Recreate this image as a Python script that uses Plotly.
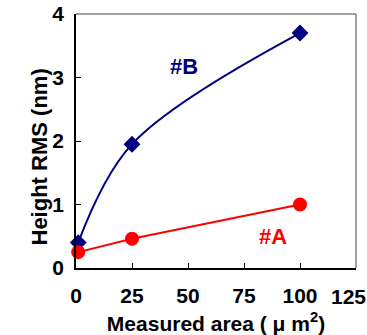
import plotly.graph_objects as go

area = [1, 25, 100]
rms_b = [0.40, 1.95, 3.70]
rms_a = [0.25, 0.46, 1.00]
x_ticks = [0, 25, 50, 75, 100, 125]
y_ticks = [0, 1, 2, 3, 4]

FONT = "Liberation Sans"
L, R, T, B = 76, 11, 14, 67
W, H = 367, 335
PW, PH = W - L - R, H - T - B

fig = go.Figure()
fig.add_trace(go.Scatter(x=area, y=rms_b, mode="lines+markers",
                         line=dict(color="#000080", width=2, shape="spline", smoothing=1.0),
                         marker=dict(symbol="diamond", size=13, color="#000080"),
                         showlegend=False, cliponaxis=False))
fig.add_trace(go.Scatter(x=area, y=rms_a, mode="lines+markers",
                         line=dict(color="#FF0000", width=2),
                         marker=dict(symbol="circle", size=14, color="#FF0000"),
                         showlegend=False, cliponaxis=False))

fig.add_annotation(x=48, y=3.17, text="<b>#B</b>", showarrow=False,
                   font=dict(family=FONT, size=22, color="#000080"))
fig.add_annotation(x=88, y=0.49, text="<b>#A</b>", showarrow=False,
                   font=dict(family=FONT, size=22, color="#FF0000"))

tickfont = dict(family=FONT, size=21, color="black")
axis_common = dict(showgrid=False, zeroline=False, ticks="inside", ticklen=5,
                   tickcolor="black", linecolor="black", linewidth=1.5,
                   mirror=False, tickfont=tickfont, automargin=False)
# last x tick label is placed separately (shifted left to fit, as in the original)
x_text = [f"<b>{v}</b>" for v in x_ticks[:-1]] + [""]
fig.update_xaxes(range=[0, 125], tickvals=x_ticks, ticktext=x_text,
                 ticklabelstandoff=8, **axis_common,
                 title=dict(text="<b>Measured area ( μ m<sup>2</sup>)</b>",
                            font=dict(family=FONT, size=21, color="black"), standoff=12))
fig.add_annotation(x=x_ticks[-1], y=0, yref="y", text=f"<b>{x_ticks[-1]}</b>",
                   showarrow=False, xanchor="right", yanchor="top",
                   xshift=12, yshift=-15,
                   font=dict(family=FONT, size=21, color="black", weight="bold"))
fig.update_yaxes(range=[0, 4], tickvals=y_ticks,
                 ticktext=[f"<b>{v}</b>" for v in y_ticks],
                 ticklabelstandoff=6, **axis_common)
fig.add_annotation(xref="paper", yref="paper", x=(24 - L) / PW, y=(H - B - 157) / PH,
                   text="<b>Height RMS (nm)</b>", textangle=-90, showarrow=False,
                   font=dict(family=FONT, size=22, color="black"))

# gray frame top/right
fig.add_shape(type="line", xref="paper", yref="paper", x0=0, x1=1, y0=1, y1=1,
              line=dict(color="#808080", width=1.5))
fig.add_shape(type="line", xref="paper", yref="paper", x0=1, x1=1, y0=0, y1=1,
              line=dict(color="#808080", width=1.5))

fig.update_layout(width=W, height=H, margin=dict(l=L, r=R, t=T, b=B),
                  plot_bgcolor="white", paper_bgcolor="white")
fig.write_html("out.html")
